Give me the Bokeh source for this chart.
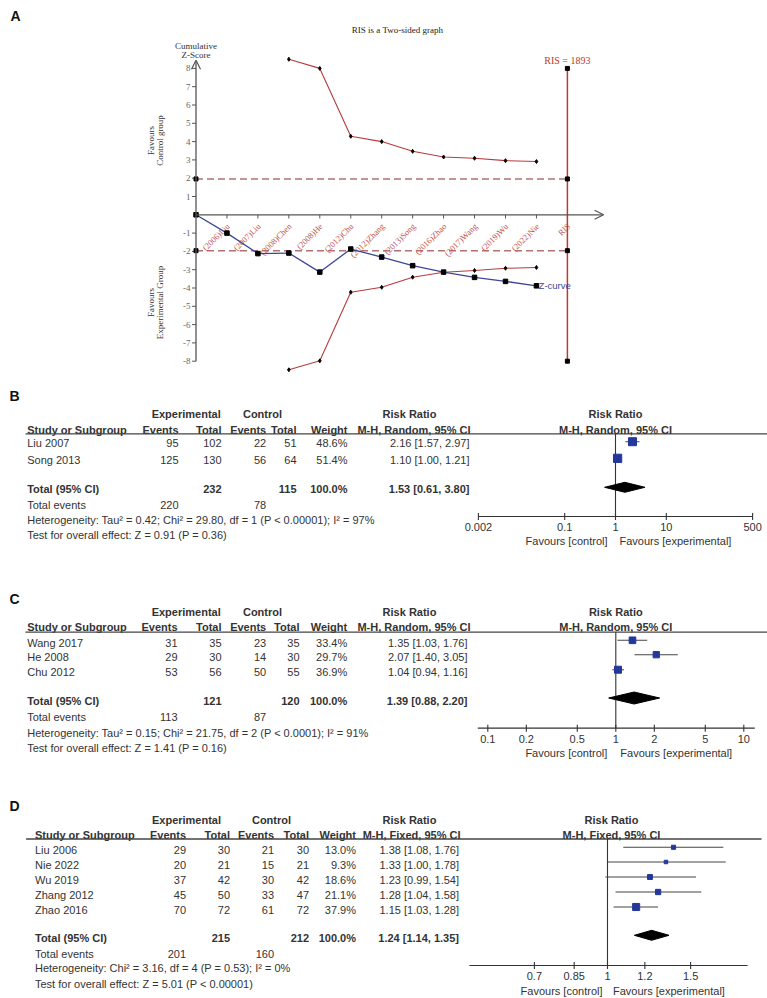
import math
from bokeh.plotting import figure
from bokeh.layouts import column
from bokeh.models import Range1d, Arrow, OpenHead, LogScale
from bokeh.core.properties import value
from bokeh.embed import file_html
from bokeh.resources import INLINE

SANS = value("Liberation Sans")
SERIF = value("Liberation Serif")
TXT = "#333333"
BLUE_SQ = "#24379a"
W = 767

# ---------------- Panel A data (trial sequential analysis) ----------------
tsa_labels = ["(2006)Liu", "(2007)Liu", "(2008)Chen", "(2008)He", "(2012)Chu",
              "(2012)Zhang", "(2013)Song", "(2016)Zhao", "(2017)Wang", "(2019)Wu",
              "(2022)Nie"]
ris_label = "RIS"
z_curve = [0.0, -1.0, -2.12, -2.09, -3.13, -1.87, -2.31, -2.78, -3.13, -3.42, -3.64, -3.88]
upper_boundary = [8.5, 8.0, 4.29, 4.0, 3.47, 3.16, 3.09, 2.96, 2.91]
lower_boundary = [-8.47, -7.98, -4.23, -3.96, -3.41, -3.14, -3.04, -2.92, -2.88]
boundary_first = 3
z_ticks = [-8, -7, -6, -5, -4, -3, -2, -1, 1, 2, 3, 4, 5, 6, 7, 8]
z_crit = 1.96
ris_n = 1893
ris_extent = 8

# ---------------- Panel B data ----------------
B_studies = ["Liu 2007", "Song 2013"]
B_exp_events = [95, 125]
B_exp_total = [102, 130]
B_ctl_events = [22, 56]
B_ctl_total = [51, 64]
B_weight = [48.6, 51.4]
B_rr = [2.16, 1.10]
B_lo = [1.57, 1.00]
B_hi = [2.97, 1.21]
B_sum = [232, 115, 100.0, 1.53, 0.61, 3.80]
B_events = [220, 78]
B_method = "M-H, Random, 95% CI"
B_het = "Heterogeneity: Tau\u00b2 = 0.42; Chi\u00b2 = 29.80, df = 1 (P < 0.00001); I\u00b2 = 97%"
B_test = "Test for overall effect: Z = 0.91 (P = 0.36)"
B_ticks = [0.002, 0.1, 1, 10, 500]
B_tick_labels = ["0.002", "0.1", "1", "10", "500"]

# ---------------- Panel C data ----------------
C_studies = ["Wang 2017", "He 2008", "Chu 2012"]
C_exp_events = [31, 29, 53]
C_exp_total = [35, 30, 56]
C_ctl_events = [23, 14, 50]
C_ctl_total = [35, 30, 55]
C_weight = [33.4, 29.7, 36.9]
C_rr = [1.35, 2.07, 1.04]
C_lo = [1.03, 1.40, 0.94]
C_hi = [1.76, 3.05, 1.16]
C_sum = [121, 120, 100.0, 1.39, 0.88, 2.20]
C_events = [113, 87]
C_method = "M-H, Random, 95% CI"
C_het = "Heterogeneity: Tau\u00b2 = 0.15; Chi\u00b2 = 21.75, df = 2 (P < 0.0001); I\u00b2 = 91%"
C_test = "Test for overall effect: Z = 1.41 (P = 0.16)"
C_ticks = [0.1, 0.2, 0.5, 1, 2, 5, 10]
C_tick_labels = ["0.1", "0.2", "0.5", "1", "2", "5", "10"]

# ---------------- Panel D data ----------------
D_studies = ["Liu 2006", "Nie 2022", "Wu 2019", "Zhang 2012", "Zhao 2016"]
D_exp_events = [29, 20, 37, 45, 70]
D_exp_total = [30, 21, 42, 50, 72]
D_ctl_events = [21, 15, 30, 33, 61]
D_ctl_total = [30, 21, 42, 47, 72]
D_weight = [13.0, 9.3, 18.6, 21.1, 37.9]
D_rr = [1.38, 1.33, 1.23, 1.28, 1.15]
D_lo = [1.08, 1.00, 0.99, 1.04, 1.03]
D_hi = [1.76, 1.78, 1.54, 1.58, 1.28]
D_sum = [215, 212, 100.0, 1.24, 1.14, 1.35]
D_events = [201, 160]
D_method = "M-H, Fixed, 95% CI"
D_het = "Heterogeneity: Chi\u00b2 = 3.16, df = 4 (P = 0.53); I\u00b2 = 0%"
D_test = "Test for overall effect: Z = 5.01 (P < 0.00001)"
D_ticks = [0.7, 0.85, 1, 1.2, 1.5]
D_tick_labels = ["0.7", "0.85", "1", "1.2", "1.5"]


def base_fig(w, h, xr, yr, **extra):
    p = figure(width=w, height=h, x_range=xr, y_range=yr, output_backend="svg",
               toolbar_location=None, min_border=0, x_axis_location=None,
               y_axis_location=None, background_fill_color="white",
               border_fill_color="white", **extra)
    p.outline_line_color = None
    p.grid.grid_line_color = None
    return p


# ======================= Panel A =======================
A_X0, A_DX, A_Y0, A_DY = 195.5, 30.95, 214.3, 18.3
A_TOP, A_BOT = 0, 375
def axp(px):
    return (px - A_X0) / A_DX
def ayp(py):
    return (A_Y0 - py) / A_DY

pa = base_fig(W, A_BOT - A_TOP, Range1d(axp(0), axp(W)), Range1d(ayp(A_BOT), ayp(A_TOP)))
AXC = "#555555"
n = len(tsa_labels)
ris_x = n + 1
study_x = list(range(1, n + 1))

for zc in (z_crit, -z_crit):
    pa.line([0, ris_x], [zc, zc], line_color="#b07272", line_width=1.5, line_dash="7 4")

pa.add_layout(Arrow(x_start=0, y_start=0, x_end=ris_x + 1.17, y_end=0,
                    line_color=AXC, line_width=1.3,
                    end=OpenHead(size=9, line_color=AXC, line_width=1.2)))
pa.add_layout(Arrow(x_start=0, y_start=-ris_extent, x_end=0, y_end=8.45,
                    line_color=AXC, line_width=1.3,
                    end=OpenHead(size=9, line_color=AXC, line_width=1.2)))
tick_x = study_x + [ris_x]
pa.segment(x0=tick_x, x1=tick_x, y0=[0] * len(tick_x), y1=[-0.2] * len(tick_x),
           line_color=AXC, line_width=1)
pa.segment(x0=[-0.13] * len(z_ticks), x1=[0] * len(z_ticks), y0=z_ticks, y1=z_ticks,
           line_color=AXC, line_width=1)
pa.text(x=[-0.18] * len(z_ticks), y=z_ticks, text=[str(t) for t in z_ticks],
        text_font=SERIF, text_font_size="9px", text_color="#666666",
        text_align="right", text_baseline="middle")
pa.text(x=[t + 0.04 for t in tick_x], y=[-0.55] * len(tick_x),
        text=tsa_labels + [ris_label], angle=math.pi / 4,
        text_font=SERIF, text_font_size="8.5px", text_color="#c0504d",
        text_align="right", text_baseline="middle")

pa.segment(x0=[ris_x], x1=[ris_x], y0=[-ris_extent], y1=[ris_extent],
           line_color="#c0392b", line_width=1.5)

bx = list(range(boundary_first, n + 1))
pa.line(bx, upper_boundary, line_color="#b83b3b", line_width=1.1)
pa.line(bx, lower_boundary, line_color="#b83b3b", line_width=1.1)
pa.scatter(bx, upper_boundary, size=4, marker="diamond", color="black")
pa.scatter(bx, lower_boundary, size=4, marker="diamond", color="black")

zx = list(range(0, n + 1))
pa.line(zx, z_curve, line_color="#3c4795", line_width=1.3)
pa.scatter(zx, z_curve, size=4.5, marker="square", color="black")

pa.scatter([0, 0, ris_x, ris_x, ris_x, ris_x],
           [z_crit, -z_crit, z_crit, -z_crit, ris_extent, -ris_extent],
           size=4, marker="square", color="black")

pa.text(x=[ris_x], y=[8.45], text=["RIS = %d" % ris_n], text_font=SERIF,
        text_font_size="10px", text_color="#c0392b", text_align="center",
        text_baseline="middle")
pa.text(x=[n + 0.07], y=[z_curve[-1]], text=["Z-curve"], text_font=SANS,
        text_font_size="9.5px", text_color="#3c4795", text_align="left",
        text_baseline="middle")
pa.text(x=[axp(397)], y=[ayp(29)], text=["RIS is a Two-sided graph"], text_font=SERIF,
        text_font_size="9px", text_color="#222222", text_align="center",
        text_baseline="middle")
pa.text(x=[0, 0], y=[ayp(45.7), ayp(54)], text=["Cumulative", "Z-Score"], text_font=SERIF,
        text_font_size="9px", text_color="#333333", text_align="center",
        text_baseline="middle")
pa.text(x=[axp(150), axp(159.5)], y=[ayp(140), ayp(140)], text=["Favours", "Control group"],
        angle=math.pi / 2, text_font=SERIF, text_font_size="9px", text_color="#333333",
        text_align="center", text_baseline="middle")
pa.text(x=[axp(150), axp(159.5)], y=[ayp(302), ayp(302)],
        text=["Favours", "Experimental Group"],
        angle=math.pi / 2, text_font=SERIF, text_font_size="9px", text_color="#333333",
        text_align="center", text_baseline="middle")
pa.text(x=[axp(10)], y=[ayp(15)], text=["A"], text_font=SANS, text_font_size="14px",
        text_font_style="bold", text_color="#111111", text_align="left",
        text_baseline="middle")


# ======================= Forest panels =======================
def txt(p, x, y, s, align="left", bold=False, size="11px", color=TXT, xoff=0, rng="default"):
    p.text(x=x, y=y, text=s, text_font=SANS, text_font_size=size,
           text_font_style="bold" if bold else "normal", text_color=color,
           text_align=align, text_baseline="middle", x_offset=xoff, x_range_name=rng)


def forest_panel(letter, studies, ee, et, ce, ct, w, rr, lo, hi, summ, events,
                 method, het, test, ticks, tick_labels, L):
    top, bot = L["top"], L["bot"]
    c, k = L["one_px"], L["ppd"]
    p = base_fig(W, bot - top, Range1d(0, W), Range1d(bot, top),
                 extra_x_ranges={"rr": Range1d(10 ** ((0 - c) / k), 10 ** ((W - c) / k))},
                 extra_x_scales={"rr": LogScale()})
    m = len(studies)
    rows = L["rows"]
    cols = L["cols"]

    txt(p, [9], [L["letter_y"]], [letter], bold=True, size="14px", color="#111111")
    txt(p, [L["h1"][0]], [L["hdr1"]], ["Experimental"], align="center", bold=True)
    txt(p, [L["h1"][1]], [L["hdr1"]], ["Control"], align="center", bold=True)
    txt(p, [L["h1"][2]], [L["hdr1"]], ["Risk Ratio"], align="center", bold=True)
    txt(p, [cols["left"]], [L["hdr2"]], ["Study or Subgroup"], bold=True)
    txt(p, [cols["ee"], cols["et"], cols["ce"], cols["ct"], cols["w"], cols["rrh"]],
        [L["hdr2"]] * 6, ["Events", "Total", "Events", "Total", "Weight", method],
        align="right", bold=True)
    p.segment(x0=[L["line_x0"]], x1=[L["line_x1"]], y0=[L["line"]], y1=[L["line"]],
              line_color="#444444", line_width=1.3)
    txt(p, [cols["left"]] * m, rows, studies)
    txt(p, [cols["ee"]] * m, rows, [str(v) for v in ee], align="right")
    txt(p, [cols["et"]] * m, rows, [str(v) for v in et], align="right")
    txt(p, [cols["ce"]] * m, rows, [str(v) for v in ce], align="right")
    txt(p, [cols["ct"]] * m, rows, [str(v) for v in ct], align="right")
    txt(p, [cols["w"]] * m, rows, ["%.1f%%" % v for v in w], align="right")
    txt(p, [cols["rr"]] * m, rows,
        ["%.2f [%.2f, %.2f]" % (a, b, d) for a, b, d in zip(rr, lo, hi)], align="right")
    ty = L["total"]
    txt(p, [cols["left"]], [ty], ["Total (95% CI)"], bold=True)
    txt(p, [cols["et"], cols["ct"], cols["w"], cols["rr"]], [ty] * 4,
        [str(summ[0]), str(summ[1]), "%.1f%%" % summ[2],
         "%.2f [%.2f, %.2f]" % (summ[3], summ[4], summ[5])], align="right", bold=True)
    txt(p, [cols["left"]], [L["events"]], ["Total events"])
    txt(p, [cols["ee"], cols["ce"]], [L["events"]] * 2, [str(events[0]), str(events[1])],
        align="right")
    txt(p, [cols["left"]], [L["het"]], [het])
    txt(p, [cols["left"]], [L["test"]], [test])

    # forest part (log-scaled risk ratio axis)
    R = "rr"
    ay = L["axis"]
    p.segment(x0=[1], x1=[1], y0=[L["line"]], y1=[ay], line_color="#333333",
              line_width=1.1, x_range_name=R)
    a_lo = 10 ** (math.log10(ticks[0]) - L["pad"][0] / k)
    a_hi = 10 ** (math.log10(ticks[-1]) + L["pad"][1] / k)
    p.segment(x0=[a_lo], x1=[a_hi], y0=[ay], y1=[ay], line_color="#333333",
              line_width=1.2, x_range_name=R)
    nt = len(ticks)
    p.segment(x0=ticks, x1=ticks, y0=[ay - 3.5] * nt, y1=[ay + 3.5] * nt,
              line_color="#333333", line_width=1.1, x_range_name=R)
    txt(p, ticks, [L["tick"]] * nt, tick_labels, align="center", rng=R)
    txt(p, [1], [L["fav"]], ["Favours [control]"], align="right", xoff=L["fav_off"][0], rng=R)
    txt(p, [1], [L["fav"]], ["Favours [experimental]"], align="left", xoff=L["fav_off"][1],
        rng=R)
    txt(p, [1], [L["hdr1"]], ["Risk Ratio"], align="center", bold=True, xoff=L["rh_off"],
        rng=R)
    txt(p, [1], [L["hdr2"]], [method], align="center", bold=True, xoff=L["rh_off"], rng=R)

    py = [r + L["pdy"] for r in rows]
    p.segment(x0=lo, x1=hi, y0=py, y1=py, line_color="#444444", line_width=1.1,
              x_range_name=R)
    p.scatter(rr, py, size=[1.15 * math.sqrt(v) for v in w], marker="square",
              fill_color=BLUE_SQ, line_color=BLUE_SQ, x_range_name=R)
    dy = ty + L["pdy"]
    hh = L["dh"]
    p.patch([summ[4], summ[3], summ[5], summ[3]], [dy, dy - hh, dy, dy + hh],
            color="black", x_range_name=R)
    return p


LB = dict(top=375, bot=592, one_px=615, ppd=50.8, letter_y=395,
          hdr1=413.3, hdr2=429.3, line=433.3, rows=[442.7, 459.3], total=488.3,
          events=504, het=519.3, test=534, axis=516, tick=526.7, fav=540,
          cols=dict(left=26.7, ee=178, et=221, ce=265.7, ct=296, w=347, rr=469, rrh=470),
          h1=[185.7, 262, 409], line_x0=25, line_x1=767, pad=(0, 0), fav_off=(-8, 4),
          rh_off=0, pdy=-1.5, dh=5)
LC = dict(top=592, bot=795, one_px=615.3, ppd=128, letter_y=598,
          hdr1=611, hdr2=626, line=631.7, rows=[642.3, 656.7, 671.7], total=700,
          events=716.7, het=732.7, test=747.3, axis=727.7, tick=738, fav=752,
          cols=dict(left=26.7, ee=177, et=221, ce=265.7, ct=299, w=346.7, rr=467, rrh=470),
          h1=[185.7, 262, 409], line_x0=25, line_x1=767, pad=(10, 11), fav_off=(-8.5, 4.5),
          rh_off=0, pdy=-2.5, dh=6)
LD = dict(top=795, bot=998, one_px=607, ppd=472, letter_y=805,
          hdr1=819, hdr2=834, line=838.5,
          rows=[849.3, 864, 879, 894, 909], total=937.3,
          events=953.3, het=967.7, test=983.3, axis=965, tick=975, fav=990,
          cols=dict(left=34.5, ee=185.5, et=229.5, ce=273.5, ct=308.5, w=355.5, rr=458.5,
                    rrh=460),
          h1=[186, 271, 409], line_x0=25.6, line_x1=761, pad=(65, 57), fav_off=(-5, 5.5),
          rh_off=4, pdy=-2.5, dh=5)

pB = forest_panel("B", B_studies, B_exp_events, B_exp_total, B_ctl_events, B_ctl_total,
                  B_weight, B_rr, B_lo, B_hi, B_sum, B_events, B_method, B_het, B_test,
                  B_ticks, B_tick_labels, LB)
pC = forest_panel("C", C_studies, C_exp_events, C_exp_total, C_ctl_events, C_ctl_total,
                  C_weight, C_rr, C_lo, C_hi, C_sum, C_events, C_method, C_het, C_test,
                  C_ticks, C_tick_labels, LC)
pD = forest_panel("D", D_studies, D_exp_events, D_exp_total, D_ctl_events, D_ctl_total,
                  D_weight, D_rr, D_lo, D_hi, D_sum, D_events, D_method, D_het, D_test,
                  D_ticks, D_tick_labels, LD)

layout = column(pa, pB, pC, pD)
open("out.html", "w").write(file_html(layout, INLINE))
